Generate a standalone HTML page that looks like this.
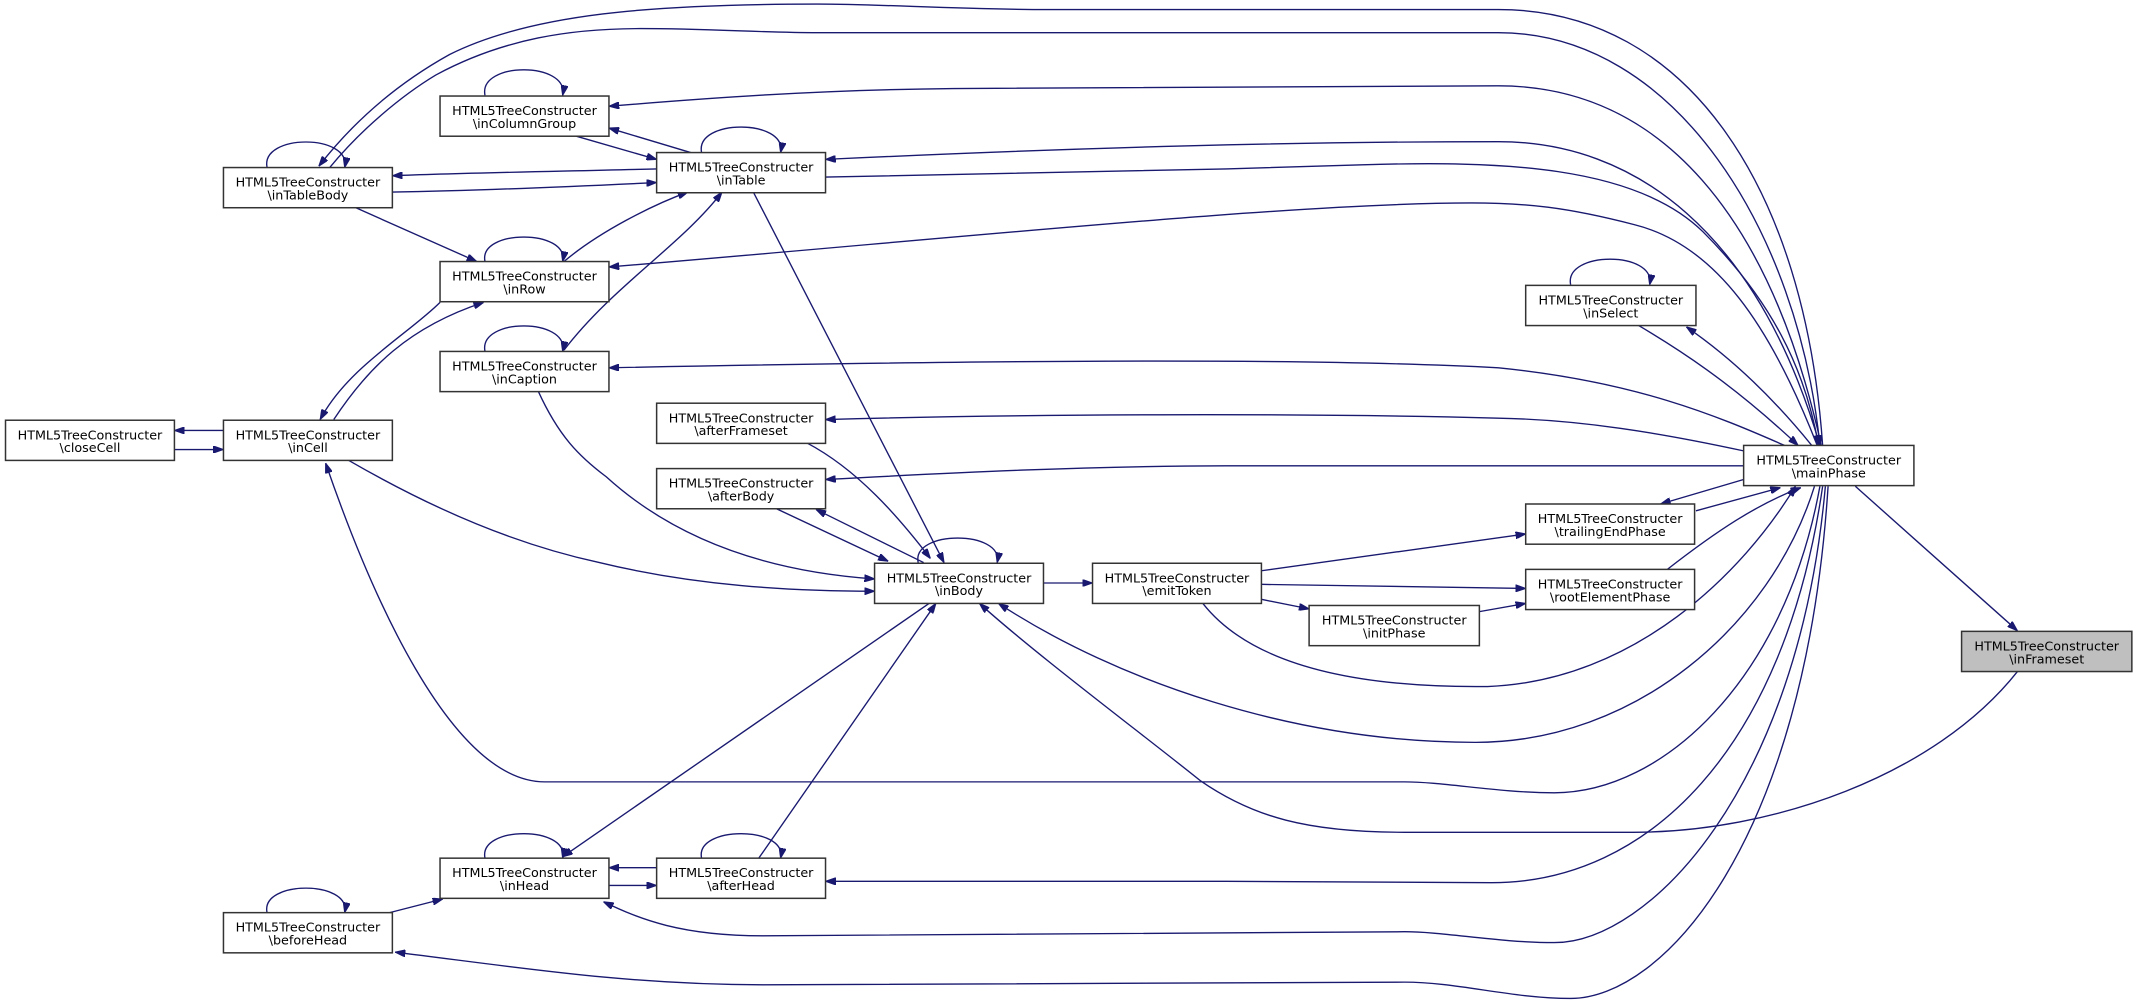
<!DOCTYPE html>
<html><head><meta charset="utf-8"><style>
html,body{margin:0;padding:0;background:#fff;}
svg{display:block;}
text{font-family:"DejaVu Sans","Liberation Sans",sans-serif;font-size:9.35px;fill:#000;text-anchor:middle;}
.e{fill:none;stroke:#191970;stroke-width:1;}
.n{fill:#fff;stroke:#333;stroke-width:1.1;}
</style></head><body>
<svg width="2136" height="1008" viewBox="0 0 1568 740" xmlns="http://www.w3.org/2000/svg">
<defs><marker id="a" viewBox="0 0 10 7" refX="10" refY="3.5" markerWidth="7.5" markerHeight="5.25" markerUnits="userSpaceOnUse" orient="auto"><path d="M0,0 L10,3.5 L0,7z" fill="#191970" stroke="#191970"/></marker></defs>
<g class="e" marker-end="url(#a)">
<path d="M1338,327 C1325,140 1240,7 1100,7 L770,7 C700,7 650,3 600,3 C480,3 390,10 330,40 C285,65 255,95 234,122"/>
<path d="M242,123 C265,95 295,70 320,55 C370,28 420,21 470,21 C520,21 560,24 600,24 L1100,24 C1230,24 1320,170 1336,327"/>
<path d="M1337,327 C1300,160 1220,63 1100,63 L700,65 C600,66 520,72 447,78"/>
<path d="M1336,327 C1290,170 1200,104 1100,104 C950,104 800,108 606,117"/>
<path d="M606,130 C700,128 800,126 900,124 L1000,121 C1100,118 1200,121 1250,170 C1300,220 1325,270 1335,327"/>
<path d="M1334,327 C1300,240 1260,180 1200,165 C1150,152 1120,149 1080,149 C950,149 700,175 447,196"/>
<path d="M1310,327 C1260,305 1200,280 1100,270 C950,262 700,265 447,270"/>
<path d="M1280,331 C1220,318 1160,308 1100,307 C950,303 750,304 606,308"/>
<path d="M1280,342 L900,342 C800,342 700,347 606,352"/>
<path d="M1153,209 C1148,184 1216,184 1211,209"/>
<path d="M1203,239 C1230,255 1270,280 1320,327"/>
<path d="M1330,327 C1300,290 1270,262 1238,240"/>
<path d="M356,70 C351,45 418,45 413,70"/>
<path d="M515,112 C510,87 578,87 573,112"/>
<path d="M196,123 C191,98 258,98 253,123"/>
<path d="M356,192 C351,168 418,168 413,192"/>
<path d="M356,258 C351,233 418,233 413,258"/>
<path d="M674,413 C669,389 737,389 732,413"/>
<path d="M356,630 C351,606 418,606 413,630"/>
<path d="M515,630 C510,606 578,606 573,630"/>
<path d="M196,670 C191,646 258,646 253,670"/>
<path d="M423,100 L482,117"/>
<path d="M507,112 L447,94"/>
<path d="M482,124 C400,126 340,127 288,129"/>
<path d="M288,141 C350,140 420,137 482,134"/>
<path d="M260,152 L350,192"/>
<path d="M414,192 C440,170 480,150 505,141"/>
<path d="M414,257 C450,210 500,180 530,141"/>
<path d="M323,222 C300,245 255,270 235,308"/>
<path d="M245,308 C270,270 300,240 355,222"/>
<path d="M164,316 L128,316"/>
<path d="M128,330 L164,330"/>
<path d="M553,141 L693,413"/>
<path d="M395,287 C410,320 425,335 445,350 C500,400 570,420 642,425"/>
<path d="M256,338 C320,375 380,400 440,413 C510,430 580,434 642,434"/>
<path d="M592,325 C630,345 660,380 683,410"/>
<path d="M569,373 L652,412"/>
<path d="M678,413 L599,374"/>
<path d="M766,428 L802,428"/>
<path d="M926,419 L1120,392"/>
<path d="M926,429 L1120,432"/>
<path d="M926,440 L961,447"/>
<path d="M1086,449 L1120,443"/>
<path d="M1245,375 L1307,358"/>
<path d="M1280,352 L1219,370"/>
<path d="M1224,418 C1260,390 1290,370 1322,358"/>
<path d="M1362,357 L1481,463"/>
<path d="M883,443 C920,490 1000,505 1092,504 C1200,500 1280,420 1318,357"/>
<path d="M1332,357 C1300,460 1200,545 1083,545 C950,545 820,500 733,443"/>
<path d="M1336,357 C1310,500 1220,582 1141,582 C1100,582 1060,574 1031,574 L400,574 C330,574 270,430 239,340"/>
<path d="M1481,493 C1420,570 1300,611 1199,611 L1031,611 C960,611 920,600 881,573 C840,540 760,480 719,443"/>
<path d="M1338,357 C1310,550 1210,648 1095,648 L900,647 C800,647 700,647 606,647"/>
<path d="M1340,357 C1320,580 1210,692 1141,692 C1100,692 1060,684 1031,684 L560,687 C500,687 470,675 443,662"/>
<path d="M1342,357 C1325,620 1220,733 1153,733 C1110,733 1070,721 1031,721 L560,723 C460,723 380,710 290,699"/>
<path d="M682,443 L413,629"/>
<path d="M557,630 L687,443"/>
<path d="M482,637 L447,637"/>
<path d="M447,650 L482,650"/>
<path d="M286,670 L325,660"/>
</g>
<g>
<rect class="n" x="323" y="70.5" width="124" height="29.5"/><text x="385" y="84.5">HTML5TreeConstructer</text><text x="385" y="94">\inColumnGroup</text>
<rect class="n" x="482" y="112" width="124" height="29.5"/><text x="544" y="126">HTML5TreeConstructer</text><text x="544" y="135.5">\inTable</text>
<rect class="n" x="164" y="123" width="124" height="29.5"/><text x="226" y="137">HTML5TreeConstructer</text><text x="226" y="146.5">\inTableBody</text>
<rect class="n" x="323" y="192" width="124" height="29.5"/><text x="385" y="206">HTML5TreeConstructer</text><text x="385" y="215.5">\inRow</text>
<rect class="n" x="323" y="258" width="124" height="29.5"/><text x="385" y="272">HTML5TreeConstructer</text><text x="385" y="281.5">\inCaption</text>
<rect class="n" x="4" y="308.5" width="124" height="29.5"/><text x="66" y="322.5">HTML5TreeConstructer</text><text x="66" y="332">\closeCell</text>
<rect class="n" x="164" y="308.5" width="124" height="29.5"/><text x="226" y="322.5">HTML5TreeConstructer</text><text x="226" y="332">\inCell</text>
<rect class="n" x="482" y="296" width="124" height="29.5"/><text x="544" y="310">HTML5TreeConstructer</text><text x="544" y="319.5">\afterFrameset</text>
<rect class="n" x="482" y="344" width="124" height="29.5"/><text x="544" y="358">HTML5TreeConstructer</text><text x="544" y="367.5">\afterBody</text>
<rect class="n" x="642" y="413.5" width="124" height="29.5"/><text x="704" y="427.5">HTML5TreeConstructer</text><text x="704" y="437">\inBody</text>
<rect class="n" x="802" y="413.5" width="124" height="29.5"/><text x="864" y="427.5">HTML5TreeConstructer</text><text x="864" y="437">\emitToken</text>
<rect class="n" x="1120" y="209.5" width="125" height="29.5"/><text x="1182.5" y="223.5">HTML5TreeConstructer</text><text x="1182.5" y="233">\inSelect</text>
<rect class="n" x="1280" y="327" width="125" height="29.5"/><text x="1342.5" y="341">HTML5TreeConstructer</text><text x="1342.5" y="350.5">\mainPhase</text>
<rect class="n" x="1120" y="370" width="124" height="29.5"/><text x="1182" y="384">HTML5TreeConstructer</text><text x="1182" y="393.5">\trailingEndPhase</text>
<rect class="n" x="1120" y="418" width="124" height="29.5"/><text x="1182" y="432">HTML5TreeConstructer</text><text x="1182" y="441.5">\rootElementPhase</text>
<rect class="n" x="961" y="444.5" width="125" height="29.5"/><text x="1023.5" y="458.5">HTML5TreeConstructer</text><text x="1023.5" y="468">\initPhase</text>
<rect class="n" x="1440" y="463.5" width="125" height="29.5" style="fill:#bfbfbf"/><text x="1502.5" y="477.5">HTML5TreeConstructer</text><text x="1502.5" y="487">\inFrameset</text>
<rect class="n" x="323" y="630" width="124" height="29.5"/><text x="385" y="644">HTML5TreeConstructer</text><text x="385" y="653.5">\inHead</text>
<rect class="n" x="482" y="630" width="124" height="29.5"/><text x="544" y="644">HTML5TreeConstructer</text><text x="544" y="653.5">\afterHead</text>
<rect class="n" x="164" y="670" width="124" height="29.5"/><text x="226" y="684">HTML5TreeConstructer</text><text x="226" y="693.5">\beforeHead</text>
</g>
</svg>
</body></html>
